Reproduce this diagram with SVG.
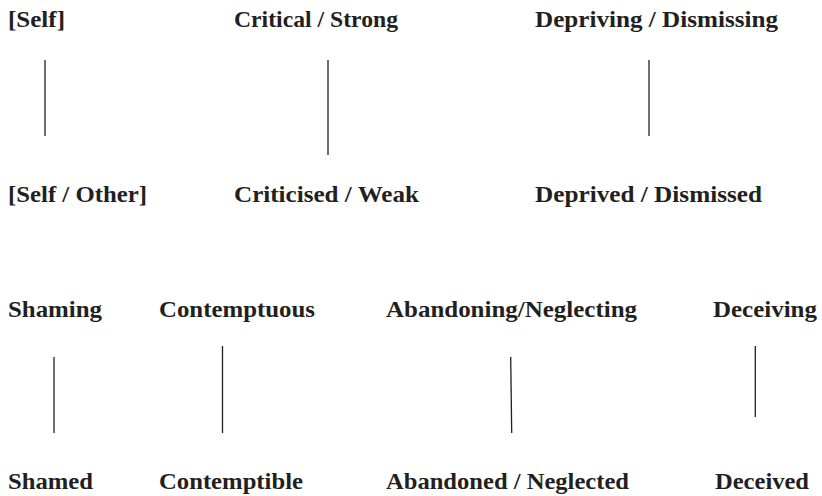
<svg xmlns="http://www.w3.org/2000/svg" width="822" height="496" viewBox="0 0 822 496">
<style>
text{font-family:"Liberation Serif","Times New Roman",serif;font-weight:bold;font-size:24px;fill:#231f20}
line{stroke:#231f20;stroke-width:1.3}
</style>
<rect width="822" height="496" fill="#fff"/>
<g id="n-self"><text x="8" y="27" textLength="57" lengthAdjust="spacingAndGlyphs">[Self]</text></g>
<g id="n-critical"><text x="234" y="27" textLength="164" lengthAdjust="spacingAndGlyphs">Critical / Strong</text></g>
<g id="n-depriving"><text x="535" y="27" textLength="243" lengthAdjust="spacingAndGlyphs">Depriving / Dismissing</text></g>
<g id="n-selfother"><text x="8" y="202" textLength="139" lengthAdjust="spacingAndGlyphs">[Self / Other]</text></g>
<g id="n-criticised"><text x="234" y="202" textLength="185" lengthAdjust="spacingAndGlyphs">Criticised / Weak</text></g>
<g id="n-deprived"><text x="535" y="202" textLength="227" lengthAdjust="spacingAndGlyphs">Deprived / Dismissed</text></g>
<g id="n-shaming"><text x="8" y="317" textLength="94" lengthAdjust="spacingAndGlyphs">Shaming</text></g>
<g id="n-contemptuous"><text x="159" y="317" textLength="156" lengthAdjust="spacingAndGlyphs">Contemptuous</text></g>
<g id="n-abandoning"><text x="386" y="317" textLength="251" lengthAdjust="spacingAndGlyphs">Abandoning/Neglecting</text></g>
<g id="n-deceiving"><text x="713" y="317" textLength="104" lengthAdjust="spacingAndGlyphs">Deceiving</text></g>
<g id="n-shamed"><text x="8" y="489" textLength="85" lengthAdjust="spacingAndGlyphs">Shamed</text></g>
<g id="n-contemptible"><text x="159" y="489" textLength="144" lengthAdjust="spacingAndGlyphs">Contemptible</text></g>
<g id="n-abandoned"><text x="386" y="489" textLength="243" lengthAdjust="spacingAndGlyphs">Abandoned / Neglected</text></g>
<g id="n-deceived"><text x="715" y="489" textLength="94" lengthAdjust="spacingAndGlyphs">Deceived</text></g>
<g id="connectors">
<line x1="45" y1="60" x2="45" y2="136"/>
<line x1="328" y1="60" x2="328" y2="155"/>
<line x1="649" y1="60" x2="649" y2="136"/>
<line x1="54" y1="357" x2="54" y2="433"/>
<line x1="222.5" y1="346" x2="222.5" y2="433"/>
<line x1="510.7" y1="357" x2="511.7" y2="433"/>
<line x1="755.3" y1="346" x2="755.3" y2="417"/>
</g>
</svg>
